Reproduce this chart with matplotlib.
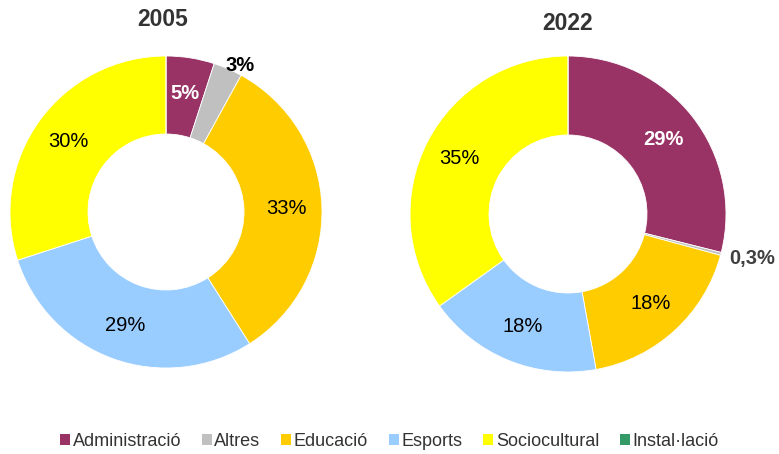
import matplotlib
matplotlib.use("Agg")
import matplotlib.pyplot as plt
from matplotlib.patches import Patch
import numpy as np

plt.rcParams['font.family'] = ['Liberation Sans', 'DejaVu Sans']

categories = ["Administració", "Altres", "Educació", "Esports", "Sociocultural", "Instal·lació"]
colors = ["#993366", "#C0C0C0", "#FFCC00", "#99CCFF", "#FFFF00", "#339966"]
years = ["2005", "2022"]
values_2005 = [5, 3, 33, 29, 30, 0]
values_2022 = [29, 0.3, 18, 18, 35, 0]
labels_2005 = ["5%", "3%", "33%", "29%", "30%", ""]
labels_2022 = ["29%", "0,3%", "18%", "18%", "35%", ""]

W, H = 779, 454
fig = plt.figure(figsize=(W / 100, H / 100), dpi=100)

def add_pie(cx, cy, r, values, labels, title, outside_idx, outside_r, outside_color,
            outside_off, white_idx, title_x, title_y):
    ax = fig.add_axes([(cx - r) / W, (H - cy - r) / H, 2 * r / W, 2 * r / H])
    ax.pie(values, colors=colors, startangle=90, counterclock=False,
           wedgeprops=dict(width=0.5, edgecolor='white', linewidth=0.6),
           radius=1.0)
    ax.set_xlim(-1, 1)
    ax.set_ylim(-1, 1)
    ax.set_aspect('equal')
    ax.axis('off')
    total = sum(values)
    cum = 0
    for i, v in enumerate(values):
        if v == 0:
            continue
        mid = 90 - (cum + v / 2) / total * 360
        cum += v
        ang = np.deg2rad(mid)
        if i == outside_idx:
            rr = outside_r
            ax.annotate(labels[i], (rr * np.cos(ang), rr * np.sin(ang)),
                        xytext=outside_off, textcoords='offset pixels',
                        ha='center', va='center', fontsize=14.5, fontweight='bold',
                        color=outside_color, annotation_clip=False)
        else:
            rr = 0.77
            if i == white_idx:
                ax.text(rr * np.cos(ang), rr * np.sin(ang), labels[i], ha='center', va='center',
                        fontsize=14.5, fontweight='bold', color='white')
            else:
                ax.text(rr * np.cos(ang), rr * np.sin(ang), labels[i], ha='center', va='center',
                        fontsize=14.5, color='black')
    fig.text(title_x / W, 1 - title_y / H, title, ha='center', va='center',
             fontsize=16.5, fontweight='bold', color='#333333')

add_pie(166, 212, 156, values_2005, labels_2005, years[0], 1, 1.06, 'black', (8, -5), 0, 163, 19)
add_pie(568, 214, 158, values_2022, labels_2022, years[1], 1, 1.19, '#404040', (2, 3), 0, 568, 23)

handles = [Patch(facecolor=c, edgecolor='none', label=l) for c, l in zip(colors, categories)]
fig.legend(handles=handles, loc='center', bbox_to_anchor=(0.5, 1 - 441 / H), ncol=6,
           frameon=False, fontsize=13, handlelength=0.55, handleheight=0.55,
           handletextpad=0.15, columnspacing=1.15, labelcolor='#333333',
           borderpad=0, borderaxespad=0)

fig.savefig("out.png", dpi=100)
